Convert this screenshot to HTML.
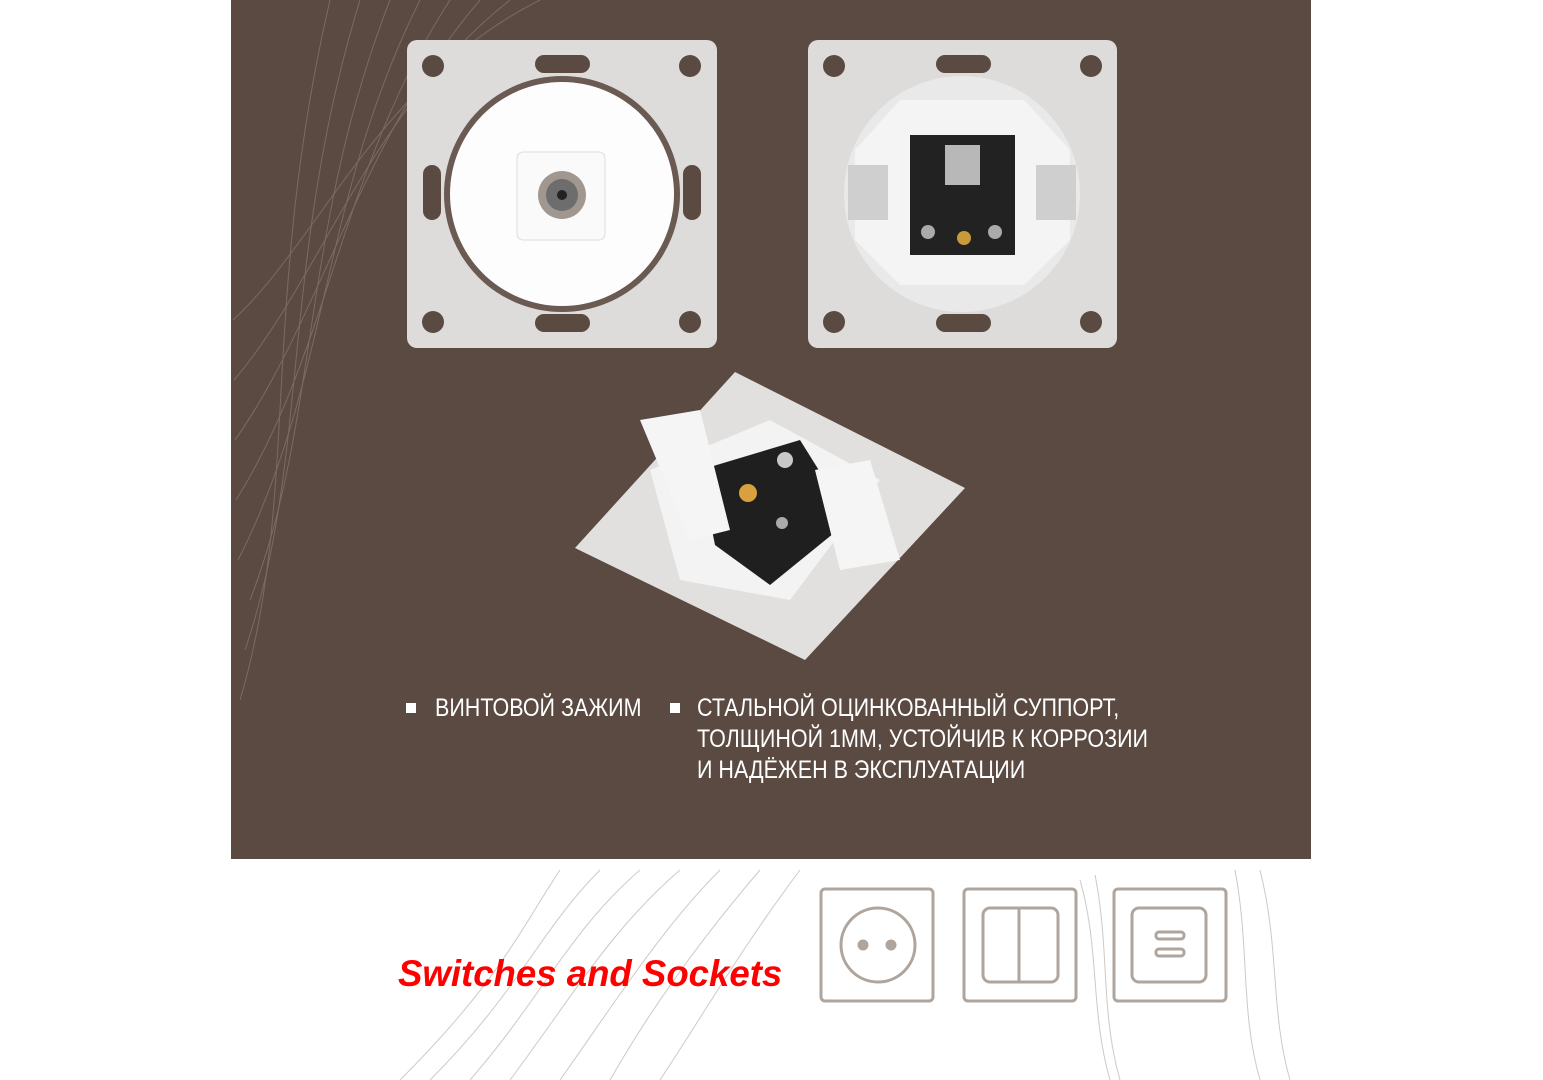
<!DOCTYPE html>
<html><head><meta charset="utf-8"><style>
body{margin:0;width:1543px;height:1080px;background:#fff;position:relative;overflow:hidden;font-family:"Liberation Sans",sans-serif}
.t{position:absolute;color:#fff;font-family:"Liberation Sans",sans-serif;font-size:25px;line-height:31px;white-space:nowrap;transform:scaleX(0.86);transform-origin:0 0}
.b{position:absolute;width:10px;height:10px;background:#fff}
</style></head><body>
<svg width="1543" height="1080" style="position:absolute;left:0;top:0">
<rect x="231" y="0" width="1080" height="859" fill="#5a4a42"/>
<g fill="none" stroke="#7a6b63" stroke-width="1">
<path d="M240 700 C300 500 260 300 330 0"/><path d="M245 650 C310 460 280 260 360 0"/><path d="M250 600 C320 420 300 230 390 0"/><path d="M238 560 C330 380 320 200 420 0"/><path d="M236 500 C330 350 340 170 450 0"/><path d="M235 440 C320 320 360 140 480 0"/><path d="M234 380 C320 280 370 110 510 0"/><path d="M233 320 C320 240 380 80 540 0"/>
</g>
<g fill="none" stroke="#cfc9c4" stroke-width="1">
<path d="M400 1080 C500 980 520 930 560 870"/><path d="M430 1080 C520 990 540 930 600 870"/><path d="M470 1080 C540 1000 570 930 640 870"/><path d="M510 1080 C570 1000 610 930 680 870"/><path d="M560 1080 C610 1010 660 930 720 870"/><path d="M610 1080 C650 1010 700 940 760 870"/><path d="M660 1080 C700 1020 740 950 800 870"/>
<path d="M1080 880 C1100 950 1090 1010 1110 1080"/><path d="M1095 875 C1110 950 1100 1010 1120 1080"/><path d="M1235 870 C1250 950 1240 1010 1260 1080"/><path d="M1260 870 C1280 950 1270 1010 1290 1080"/>
</g>
<g>
<rect x="407" y="40" width="310" height="308" rx="10" fill="#dedcda"/>
<circle cx="433" cy="66" r="11" fill="#5a4a42"/><circle cx="690" cy="66" r="11" fill="#5a4a42"/><circle cx="433" cy="322" r="11" fill="#5a4a42"/><circle cx="690" cy="322" r="11" fill="#5a4a42"/>
<rect x="535" y="55" width="55" height="18" rx="9" fill="#5a4a42"/><rect x="535" y="314" width="55" height="18" rx="9" fill="#5a4a42"/>
<rect x="423" y="165" width="18" height="55" rx="9" fill="#5a4a42"/><rect x="683" y="165" width="18" height="55" rx="9" fill="#5a4a42"/>
<circle cx="562" cy="194" r="118" fill="#6a5a52"/>
<circle cx="562" cy="194" r="112" fill="#fdfdfd"/>
<rect x="517" y="152" width="88" height="88" rx="6" fill="#fafafa" stroke="#ddd"/>
<circle cx="562" cy="195" r="24" fill="#a09890"/><circle cx="562" cy="195" r="16" fill="#6d6d6d"/><circle cx="562" cy="195" r="5" fill="#222"/>
</g>
<g>
<rect x="808" y="40" width="309" height="308" rx="10" fill="#dedcda"/>
<circle cx="834" cy="66" r="11" fill="#5a4a42"/><circle cx="1091" cy="66" r="11" fill="#5a4a42"/><circle cx="834" cy="322" r="11" fill="#5a4a42"/><circle cx="1091" cy="322" r="11" fill="#5a4a42"/>
<rect x="936" y="55" width="55" height="18" rx="9" fill="#5a4a42"/><rect x="936" y="314" width="55" height="18" rx="9" fill="#5a4a42"/>
<circle cx="962" cy="194" r="118" fill="#e9e9e9"/>
<polygon points="900,100 1024,100 1070,150 1070,240 1024,285 900,285 855,240 855,150" fill="#f4f4f4"/>
<rect x="848" y="165" width="40" height="55" fill="#cfcfcf"/><rect x="1036" y="165" width="40" height="55" fill="#cfcfcf"/>
<rect x="910" y="135" width="105" height="120" fill="#222"/>
<rect x="945" y="145" width="35" height="40" fill="#b8b8b8"/>
<circle cx="964" cy="238" r="7" fill="#c89a3a"/><circle cx="928" cy="232" r="7" fill="#aaa"/><circle cx="995" cy="232" r="7" fill="#aaa"/>
</g>
<g>
<polygon points="575,548 735,372 965,488 805,660" fill="#e2e0de"/>
<polygon points="650,470 770,420 880,480 790,600 680,580" fill="#f3f3f3"/>
<polygon points="700,470 800,440 850,520 770,585 715,545" fill="#1f1f1f"/>
<polygon points="640,420 700,410 730,530 690,540" fill="#f5f5f5"/>
<polygon points="815,470 870,460 900,560 840,570" fill="#f5f5f5"/>
<circle cx="748" cy="493" r="9" fill="#d9a040"/><circle cx="785" cy="460" r="8" fill="#c8c8c8"/>
<circle cx="782" cy="523" r="6" fill="#aaa"/>
</g>
<g fill="none" stroke="#b0a59c" stroke-width="3">
<rect x="821" y="889" width="112" height="112" rx="4"/>
<circle cx="878" cy="945" r="37"/>
<rect x="964" y="889" width="112" height="112" rx="4"/>
<rect x="983" y="908" width="75" height="74" rx="7"/><line x1="1019" y1="908" x2="1019" y2="982"/>
<rect x="1114" y="889" width="112" height="112" rx="4"/>
<rect x="1132" y="908" width="74" height="74" rx="7"/>
<rect x="1156" y="932" width="28" height="7" rx="3"/><rect x="1156" y="949" width="28" height="7" rx="3"/>
</g>
<g fill="#b0a59c"><circle cx="863" cy="945" r="5.5"/><circle cx="891" cy="945" r="5.5"/></g>
</svg>
<div class="b" style="left:406px;top:703px"></div>
<div class="t" style="left:435px;top:693px">ВИНТОВОЙ ЗАЖИМ</div>
<div class="b" style="left:670px;top:703px"></div>
<div class="t" style="left:697px;top:693px">СТАЛЬНОЙ ОЦИНКОВАННЫЙ СУППОРТ,<br>ТОЛЩИНОЙ 1ММ, УСТОЙЧИВ К КОРРОЗИИ<br>И НАДЁЖЕН В ЭКСПЛУАТАЦИИ</div>
<div style="position:absolute;left:398px;top:953px;color:#f00;font-weight:bold;font-style:italic;font-size:36.6px;white-space:nowrap">Switches and Sockets</div>
</body></html>
